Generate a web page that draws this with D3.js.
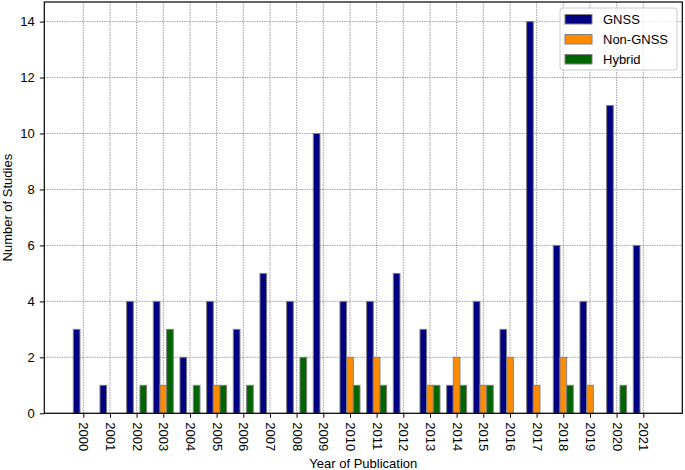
<!DOCTYPE html>
<meta charset="utf-8">
<html>
<head>
  <script src="https://d3js.org/d3.v7.min.js"></script>
  <style>
    body { margin: 0; background: #fff; }
    text { font-family: "Liberation Sans", Arial, sans-serif; fill: #000; }
    .grid line { stroke: #888; stroke-width: 0.8; stroke-dasharray: 1.5,1; }
    .axis path { display: none; }
    .axis line { stroke: #000; stroke-width: 1; }
    .axis text { font-size: 13px; }
    .bar { stroke: #808080; stroke-width: 1; }
  </style>
</head>
<body>
  <script>
    // Data
    var years = [2000, 2001, 2002, 2003, 2004, 2005, 2006, 2007, 2008, 2009, 2010,
                 2011, 2012, 2013, 2014, 2015, 2016, 2017, 2018, 2019, 2020, 2021];
    var gnss    = [3, 1, 4, 4, 2, 4, 3, 5, 4, 10, 4, 4, 5, 3, 1, 4, 3, 14, 6, 4, 11, 6];
    var nonGnss = [0, 0, 0, 1, 0, 1, 0, 0, 0, 0, 2, 2, 0, 1, 2, 1, 2, 1, 2, 1, 0, 0];
    var hybrid  = [0, 0, 1, 3, 1, 1, 1, 0, 2, 0, 1, 1, 0, 1, 1, 1, 0, 0, 1, 0, 1, 0];
    var yTicks = [0, 2, 4, 6, 8, 10, 12, 14];
    var seriesNames = ["GNSS", "Non-GNSS", "Hybrid"];
    var seriesColors = ["#000080", "#ff8c00", "#006400"];
    var seriesValues = [gnss, nonGnss, hybrid];

    var W = 685, H = 470;
    var pl = 44.3, pr = 682.3, pt = 2, pb = 413.3;
    var bw = 0.25;

    var svg = d3.select("body").append("svg")
      .attr("width", W).attr("height", H);

    // Scales (matplotlib-like 5% margins)
    var lo = years[0] - 1.5 * bw, hi = years[years.length - 1] + 1.5 * bw;
    var pad = 0.05 * (hi - lo);
    var x = d3.scaleLinear().domain([lo - pad, hi + pad]).range([pl, pr]);
    var y = d3.scaleLinear().domain([0, d3.max(gnss) * 1.05]).range([pb, pt]);

    // Grid
    svg.append("g").attr("class", "grid")
      .selectAll("line").data(years).enter().append("line")
      .attr("x1", d => x(d)).attr("x2", d => x(d))
      .attr("y1", pt).attr("y2", pb);
    svg.append("g").attr("class", "grid")
      .selectAll("line").data(yTicks).enter().append("line")
      .attr("x1", pl).attr("x2", pr)
      .attr("y1", d => y(d)).attr("y2", d => y(d));

    // Bars
    seriesValues.forEach((vals, s) => {
      svg.append("g").selectAll("rect")
        .data(vals).enter().append("rect")
        .attr("class", "bar")
        .attr("fill", seriesColors[s])
        .attr("x", (d, i) => x(years[i] + (s - 1) * bw - bw / 2))
        .attr("width", x(bw) - x(0))
        .attr("y", d => y(d))
        .attr("height", d => y(0) - y(d));
    });

    // Axes
    var xAxis = svg.append("g").attr("class", "axis")
      .attr("transform", `translate(0,${pb})`)
      .call(d3.axisBottom(x).tickValues(years).tickFormat(d3.format("d")).tickSize(4.5).tickPadding(6));
    xAxis.selectAll("text")
      .attr("transform", "rotate(90)")
      .attr("x", 9).attr("y", 0).attr("dy", "0.35em")
      .attr("text-anchor", "start");

    svg.append("g").attr("class", "axis")
      .attr("transform", `translate(${pl},0)`)
      .call(d3.axisLeft(y).tickValues(yTicks).tickSize(4.5).tickPadding(5));

    // Frame
    svg.append("rect")
      .attr("x", pl).attr("y", pt)
      .attr("width", pr - pl).attr("height", pb - pt)
      .attr("fill", "none").attr("stroke", "#000").attr("stroke-width", 1.2);

    // Axis titles
    svg.append("text")
      .attr("x", (pl + pr) / 2).attr("y", 468)
      .attr("text-anchor", "middle").style("font-size", "13px")
      .text("Year of Publication");
    svg.append("text")
      .attr("transform", `translate(12,${(pt + pb) / 2}) rotate(-90)`)
      .attr("text-anchor", "middle").style("font-size", "13px")
      .text("Number of Studies");

    // Legend
    var lg = svg.append("g").attr("transform", "translate(560,8)");
    lg.append("rect")
      .attr("width", 117).attr("height", 62).attr("rx", 3)
      .attr("fill", "#fff").attr("fill-opacity", 0.8)
      .attr("stroke", "#ccc").attr("stroke-width", 1);
    seriesNames.forEach((name, i) => {
      lg.append("rect")
        .attr("x", 5).attr("y", 6.5 + i * 20)
        .attr("width", 27).attr("height", 9.5)
        .attr("fill", seriesColors[i]).attr("stroke", "#808080").attr("stroke-width", 1);
      lg.append("text")
        .attr("x", 43).attr("y", 11.5 + i * 20).attr("dy", "0.35em")
        .style("font-size", "13px")
        .text(name);
    });
  </script>
</body>
</html>
